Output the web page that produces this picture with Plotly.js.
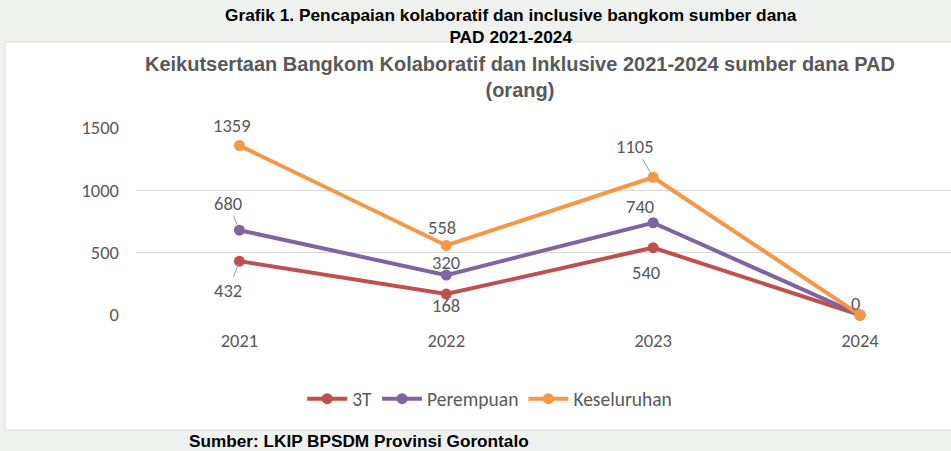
<!DOCTYPE html>
<html>
<head>
<meta charset="utf-8">
<script src="https://cdn.plot.ly/plotly-3.0.1.min.js"></script>
<style>html,body{margin:0;padding:0;background:#eff1ef;}#chart{width:951px;height:451px;}</style>
</head>
<body>
<div id="chart"></div>
<script>
const years = ["2021", "2022", "2023", "2024"];
const seriesNames = ["3T", "Perempuan", "Keseluruhan"];
const val3T = [432, 168, 540, 0];
const valPerempuan = [680, 320, 740, 0];
const valKeseluruhan = [1359, 558, 1105, 0];
const yTicks = [0, 500, 1000, 1500];

const seriesValues = [val3T, valPerempuan, valKeseluruhan];
const colors = ["#c0504d", "#8064a2", "#f79646"];
// label offsets [dx, dy, leader] in px; null = hidden
const labelOffsets = [
  [[-11, 29, true], [0, 11, false], [-7, 25, false], null],
  [[-11, -27, true], [0, -13, false], [-13, -16, false], null],
  [[-7, -20, false], [-4, -18, false], [-18, -31, true], [-4, -12, false]]
];
const fontFam = "Carlito, Lato, 'Open Sans', sans-serif";
const boldFam = "'Liberation Sans', Arial, sans-serif";

const traces = seriesValues.map((vals, i) => ({
  type: "scatter", mode: "lines+markers", name: seriesNames[i],
  x: years, y: vals,
  line: {color: colors[i], width: 4},
  marker: {color: colors[i], size: 11},
  cliponaxis: false
}));

const annotations = [];
seriesValues.forEach((vals, i) => {
  vals.forEach((v, j) => {
    const o = labelOffsets[i][j];
    if (!o) return;
    const base = {x: j, y: v, xref: "x", yref: "y", text: String(v),
      font: {family: fontFam, size: 18.5, color: "#595959"}};
    if (o[2]) {
      annotations.push(Object.assign(base, {showarrow: true, ax: o[0], ay: o[1],
        arrowhead: 0, arrowwidth: 1, arrowcolor: "#999999", standoff: 3}));
    } else {
      annotations.push(Object.assign(base, {showarrow: false, xshift: o[0], yshift: -o[1]}));
    }
  });
});

annotations.push({xref: "paper", yref: "paper", x: 0.46, y: 1.548, xanchor: "center", yanchor: "middle",
  showarrow: false, text: "<b>Grafik 1. Pencapaian kolaboratif dan inclusive bangkom sumber dana<br>PAD 2021-2024</b>",
  font: {family: boldFam, size: 17.3, color: "#000"}});
annotations.push({xref: "paper", yref: "paper", x: 0.471, y: 1.273, xanchor: "center", yanchor: "middle",
  showarrow: false, text: "<b>Keikutsertaan Bangkom Kolaboratif dan Inklusive 2021-2024 sumber dana PAD<br>(orang)</b>",
  font: {family: boldFam, size: 20, color: "#595959"}});
annotations.push({xref: "paper", yref: "paper", x: 0.274, y: -0.674, xanchor: "center", yanchor: "middle",
  showarrow: false, text: "<b>Sumber: LKIP BPSDM Provinsi Gorontalo</b>",
  font: {family: boldFam, size: 17.2, color: "#000"}});

const layout = {
  width: 951, height: 451,
  margin: {l: 136, r: 0, t: 128, b: 136},
  paper_bgcolor: "#eff1ef", plot_bgcolor: "rgba(0,0,0,0)",
  showlegend: true,
  legend: {orientation: "h", x: 0.434, xanchor: "center", y: -0.449, yanchor: "middle",
    font: {family: fontFam, size: 19.5, color: "#595959"}, bgcolor: "rgba(0,0,0,0)", itemwidth: 40},
  xaxis: {type: "category", range: [-0.5, 3.44], showgrid: false, zeroline: false, showline: false,
    ticks: "", ticklabelstandoff: 12, tickfont: {family: fontFam, size: 18.5, color: "#595959"}},
  yaxis: {range: [0, 1500], tickvals: yTicks, showgrid: true, gridcolor: "#d9d9d9", gridwidth: 1,
    zeroline: false, showline: false, ticks: "", ticklabelstandoff: 16,
    tickfont: {family: fontFam, size: 18.5, color: "#595959"}, automargin: false},
  shapes: [{type: "rect", xref: "paper", yref: "paper", x0: -0.1607, x1: 1.01, y0: -0.615, y1: 1.46,
    fillcolor: "#ffffff", line: {color: "#d9d9d9", width: 1}, layer: "below"}],
  annotations: annotations
};

Plotly.newPlot("chart", traces, layout, {displayModeBar: false, staticPlot: true});
</script>
</body>
</html>
